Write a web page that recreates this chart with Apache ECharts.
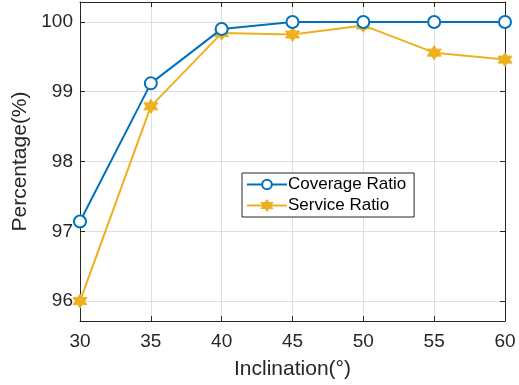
<!DOCTYPE html>
<html>
<head>
<meta charset="utf-8">
<script src="https://cdn.jsdelivr.net/npm/echarts@6/dist/echarts.min.js"></script>
<style>
  html, body { margin: 0; padding: 0; background: #fff; }
  #chart { width: 519px; height: 385px; }
</style>
</head>
<body>
<div id="chart"></div>
<script>
const inclination = [30, 35, 40, 45, 50, 55, 60];
const coverageRatio = [97.14, 99.12, 99.9, 100, 100, 100, 100];
const serviceRatio = [96.0, 98.79, 99.84, 99.82, 99.95, 99.56, 99.46];
const yTicks = [96, 97, 98, 99, 100];

// six-pointed star (MATLAB 'hexagram')
const hexagram = 'path://M0,-10 L2.9,-5 L8.66,-5 L5.77,0 L8.66,5 L2.9,5 L0,10 L-2.9,5 L-8.66,5 L-5.77,0 L-8.66,-5 L-2.9,-5 Z';

const font = 'Liberation Sans, Arial, Helvetica, sans-serif';
const axisColor = '#262626';
const gridColor = '#dedede';

const chart = echarts.init(document.getElementById('chart'));

const option = {
  backgroundColor: '#fff',
  animation: false,
  grid: { left: 80, right: 14, top: 2, bottom: 63 },
  xAxis: [
    {
      type: 'value',
      min: 30, max: 60, interval: 5,
      name: 'Inclination(°)',
      nameLocation: 'middle',
      nameGap: 38,
      nameTextStyle: { fontFamily: font, fontSize: 21, color: axisColor },
      axisLine: { lineStyle: { color: axisColor, width: 1 } },
      axisTick: { inside: true, length: 5, lineStyle: { color: axisColor } },
      axisLabel: { fontFamily: font, fontSize: 19, color: axisColor, margin: 11 },
      splitLine: { show: true, lineStyle: { color: gridColor, width: 1 } }
    },
    {
      type: 'value', position: 'top',
      min: 30, max: 60, interval: 5,
      axisLine: { show: true, onZero: false, lineStyle: { color: axisColor, width: 1 } },
      axisTick: { inside: true, length: 5, lineStyle: { color: axisColor } },
      axisLabel: { show: false },
      splitLine: { show: false }
    }
  ],
  yAxis: [
    {
      type: 'value',
      min: 95.7143, max: 100.2857,
      name: 'Percentage(%)',
      nameLocation: 'middle',
      nameGap: 44,
      nameTextStyle: { fontFamily: font, fontSize: 21, color: axisColor },
      axisLine: { show: true, lineStyle: { color: axisColor, width: 1 } },
      axisTick: { show: true, inside: true, length: 5, customValues: yTicks, lineStyle: { color: axisColor } },
      axisLabel: { fontFamily: font, fontSize: 19, color: axisColor, margin: 7, customValues: yTicks },
      splitLine: { show: true, lineStyle: { color: gridColor, width: 1 } }
    },
    {
      type: 'value', position: 'right',
      min: 95.7143, max: 100.2857,
      axisLine: { show: true, onZero: false, lineStyle: { color: axisColor, width: 1 } },
      axisTick: { show: true, inside: true, length: 5, customValues: yTicks, lineStyle: { color: axisColor } },
      axisLabel: { show: false },
      splitLine: { show: false }
    }
  ],
  legend: {
    orient: 'vertical',
    left: 242, top: 173,
    backgroundColor: '#fff',
    borderColor: axisColor,
    borderWidth: 1,
    borderRadius: 0,
    padding: [3, 8, 3, 4],
    itemGap: 4,
    itemWidth: 40,
    itemHeight: 12,
    textStyle: { fontFamily: font, fontSize: 17, color: '#000', padding: [0, 0, 0, -4] },
    data: ['Coverage Ratio', 'Service Ratio']
  },
  series: [
    {
      name: 'Coverage Ratio',
      type: 'line',
      data: inclination.map((x, i) => [x, coverageRatio[i]]),
      lineStyle: { width: 2, color: '#0072BD' },
      symbol: 'emptyCircle',
      symbolSize: 12,
      itemStyle: { color: '#0072BD', borderColor: '#0072BD', borderWidth: 2 },
      z: 3
    },
    {
      name: 'Service Ratio',
      type: 'line',
      data: inclination.map((x, i) => [x, serviceRatio[i]]),
      lineStyle: { width: 2, color: '#EDB120' },
      symbol: hexagram,
      symbolSize: 14,
      itemStyle: { color: '#EDB120', borderColor: '#EDB120', borderWidth: 1 },
      z: 2
    }
  ]
};

chart.setOption(option);
</script>
</body>
</html>
